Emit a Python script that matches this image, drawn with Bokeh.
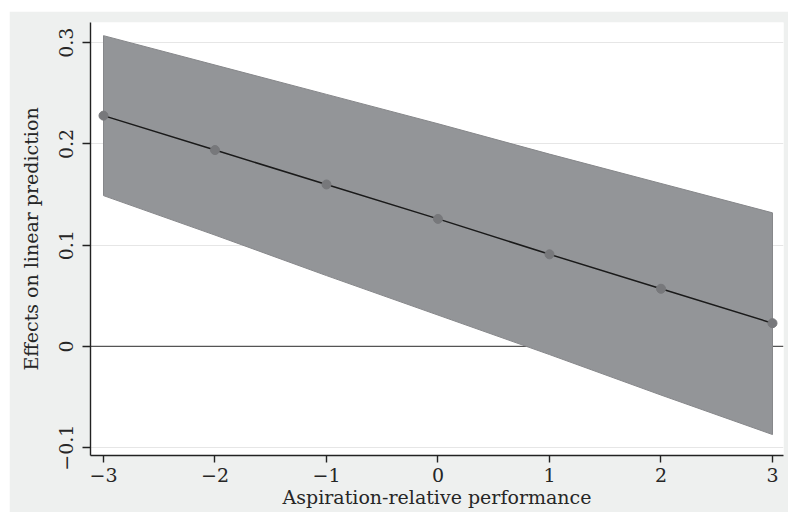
from bokeh.plotting import figure
from bokeh.models import Range1d, FixedTicker, Span, ColumnDataSource
from bokeh.embed import file_html
from bokeh.resources import INLINE

# Data
x_vals = [-3, -2, -1, 0, 1, 2, 3]
effect = [0.228, 0.194, 0.160, 0.126, 0.091, 0.057, 0.023]
ci_upper = [0.307, 0.278, 0.249, 0.220, 0.190, 0.161, 0.132]
ci_lower = [0.149, 0.110, 0.070, 0.031, -0.008, -0.048, -0.087]

x_ticks = [-3, -2, -1, 0, 1, 2, 3]
x_tick_labels = ["\u22123", "\u22122", "\u22121", "0", "1", "2", "3"]
y_ticks = [-0.1, 0, 0.1, 0.2, 0.3]
y_tick_labels = ["\u22120.1", "0", "0.1", "0.2", "0.3"]

x_title = "Aspiration-relative performance"
y_title = "Effects on linear prediction"

FONT = "DejaVu Serif"
BG = "#eef0ef"
TXT = "#262626"

src = ColumnDataSource(dict(x=x_vals, y=effect, lo=ci_lower, hi=ci_upper))

p = figure(
    output_backend="svg",
    toolbar_location=None,
    frame_width=693,
    frame_height=433,
    x_range=Range1d(-3.1166, 3.0987),
    y_range=Range1d(-0.1077, 0.32),
    min_border_left=81,
    min_border_right=5,
    min_border_top=11,
    min_border_bottom=57,
    background_fill_color="white",
    border_fill_color=BG,
    outline_line_color=None,
)
p.margin = (11, 0, 0, 9)

# grid
p.xgrid.visible = False
p.ygrid.ticker = FixedTicker(ticks=[-0.1, 0.1, 0.2, 0.3])
p.ygrid.grid_line_color = "#e6e6e6"
p.ygrid.grid_line_width = 1.2

# zero reference line
p.add_layout(Span(location=0, dimension="width", line_color="#555555",
                  line_width=1.3, level="underlay"))

# confidence band
p.varea(x="x", y1="lo", y2="hi", source=src, fill_color="#939598")
p.line(x="x", y="hi", source=src, line_color="#86878a", line_width=1)
p.line(x="x", y="lo", source=src, line_color="#86878a", line_width=1)
p.segment(x0=[x_vals[0], x_vals[-1]], y0=[ci_lower[0], ci_lower[-1]],
          x1=[x_vals[0], x_vals[-1]], y1=[ci_upper[0], ci_upper[-1]],
          line_color="#86878a", line_width=1)

# effect line + markers
p.line(x="x", y="y", source=src, line_color="#1a1a1a", line_width=1.5)
p.scatter(x="x", y="y", source=src, size=9, fill_color="#77787b",
          line_color="#77787b")

# axes
for ax in (p.xaxis[0], p.yaxis[0]):
    ax.axis_line_color = "#222222"
    ax.axis_line_width = 1.4
    ax.major_tick_line_color = "#222222"
    ax.major_tick_line_width = 1.4
    ax.minor_tick_line_color = None
    ax.major_tick_in = 0
    ax.major_label_text_font = FONT
    ax.major_label_text_font_size = "19px"
    ax.major_label_text_color = TXT
    ax.axis_label_text_font = FONT
    ax.axis_label_text_font_size = "19px"
    ax.axis_label_text_font_style = "normal"
    ax.axis_label_text_color = TXT

p.xaxis.ticker = FixedTicker(ticks=x_ticks)
p.xaxis.major_label_overrides = dict(zip(x_ticks, x_tick_labels))
p.xaxis.major_tick_out = 7
p.xaxis.major_label_standoff = 5
p.xaxis.axis_label = x_title
p.xaxis.axis_label_standoff = 1

p.yaxis.ticker = FixedTicker(ticks=y_ticks)
p.yaxis.major_label_overrides = dict(zip(y_ticks, y_tick_labels))
p.yaxis.major_tick_out = 8
p.yaxis.major_label_standoff = 9
p.yaxis.major_label_orientation = "vertical"
p.yaxis.axis_label = y_title
p.yaxis.axis_label_standoff = 15

open("out.html", "w").write(file_html(p, INLINE))
